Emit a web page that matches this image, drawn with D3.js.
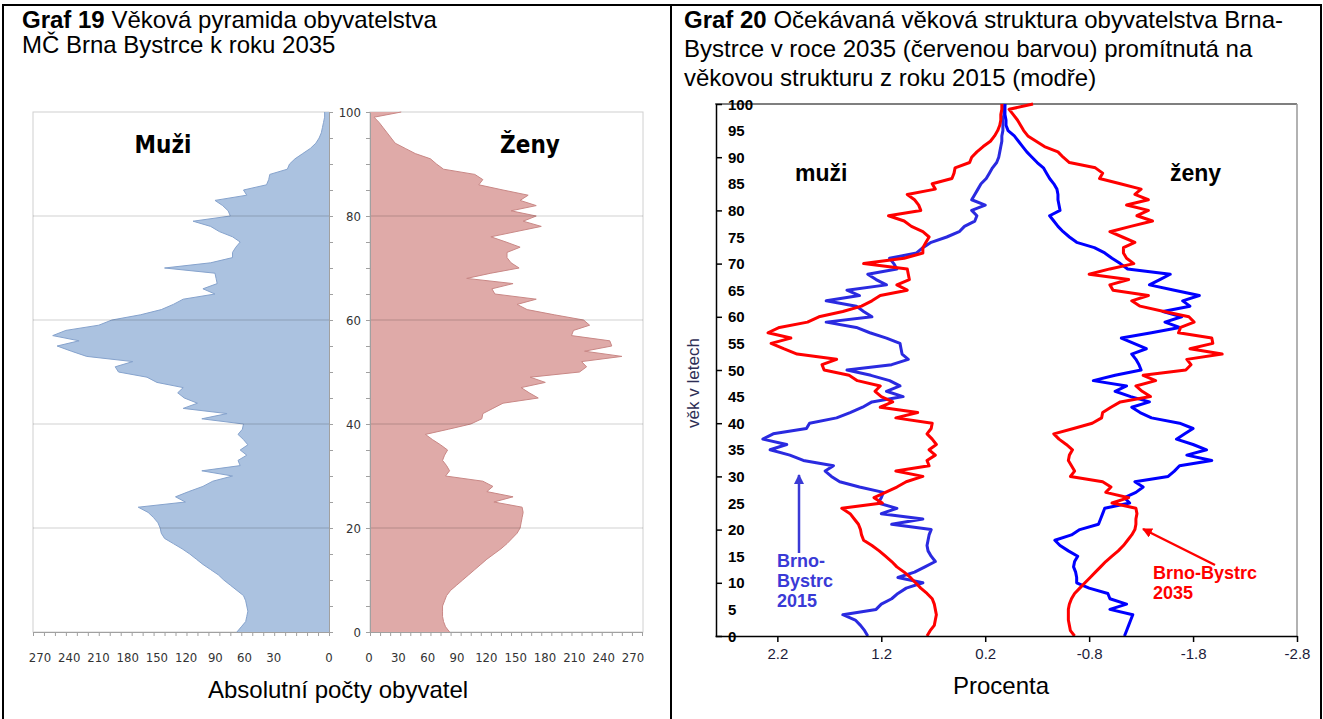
<!DOCTYPE html>
<html><head><meta charset="utf-8">
<script src="https://cdn.jsdelivr.net/npm/d3@7"></script>
<style>body{margin:0;background:#fff}svg{display:block}</style>
</head><body>
<svg id="c" width="1323" height="719"></svg>
<script>
// ---------- DATA ----------
const ages = d3.range(0, 101);
// Graf 19: absolute counts 2035 (ages 0..100)
const men2035 = [84,80,76,75,74,75,76,78,84,90,
 96,101,108,115,121,127,134,142,150,153,
 154,156,160,165,174,131,140,128,115,106,
 88,116,81,83,75,81,74,78,83,79,
 78,116,93,133,120,132,138,133,157,166,
 192,195,179,221,235,248,228,252,240,210,
 198,172,153,142,133,104,115,102,103,104,
 150,108,88,88,85,81,88,100,108,124,
 90,92,97,104,75,78,57,55,54,38,
 36,31,24,17,12,9,7,6,5,4,4];
const women2035 = [79,75,73,72,72,72,74,76,80,86,
 92,98,104,110,116,123,130,136,141,146,
 149,150,151,152,151,123,142,116,122,112,
 75,79,76,72,74,77,70,62,55,78,
 100,111,112,122,132,167,158,150,174,159,
 208,215,210,250,213,240,238,200,202,218,
 212,183,156,146,165,124,121,142,96,120,
 148,140,136,136,149,135,120,145,170,152,
 165,140,165,149,157,132,108,112,104,73,
 66,60,45,35,25,21,17,13,9,4,31];
// Graf 20: percentages (men positive = left, women negative = right)
const menPct2015 = [1.33,1.36,1.40,1.45,1.57,1.25,1.20,1.10,1.04,0.96,
 0.80,1.04,0.88,0.78,0.68,0.72,0.75,0.76,0.75,0.74,
 0.72,1.10,0.80,1.20,1.05,1.23,1.20,1.18,1.41,1.60,
 1.68,1.74,1.66,1.95,2.08,2.27,2.11,2.34,2.24,1.92,
 1.89,1.63,1.50,1.38,1.29,0.99,1.15,1.02,1.12,1.30,
 1.53,1.10,0.94,1.00,1.01,1.02,1.15,1.31,1.44,1.73,
 1.29,1.37,1.44,1.73,1.41,1.53,1.15,1.25,1.33,1.05,
 1.08,1.12,0.86,0.80,0.72,0.57,0.45,0.40,0.30,0.28,
 0.33,0.20,0.33,0.30,0.27,0.24,0.19,0.16,0.13,0.09,
 0.07,0.06,0.05,0.04,0.04,0.03,0.03,0.03,0.02,0.02,0.01];
const menPct2035 = [0.76,0.73,0.69,0.68,0.67,0.68,0.69,0.71,0.76,0.82,
 0.87,0.92,0.98,1.05,1.10,1.16,1.22,1.29,1.37,1.39,
 1.40,1.42,1.46,1.50,1.58,1.19,1.27,1.16,1.05,0.96,
 0.80,1.06,0.74,0.76,0.68,0.74,0.67,0.71,0.76,0.72,
 0.71,1.06,0.85,1.21,1.09,1.20,1.26,1.21,1.43,1.51,
 1.75,1.77,1.63,2.01,2.14,2.26,2.07,2.29,2.18,1.91,
 1.80,1.57,1.39,1.29,1.21,0.95,1.05,0.93,0.94,0.95,
 1.37,0.98,0.80,0.80,0.77,0.74,0.80,0.91,0.98,1.13,
 0.82,0.84,0.88,0.95,0.68,0.71,0.52,0.50,0.49,0.35,
 0.33,0.28,0.22,0.15,0.11,0.08,0.06,0.05,0.05,0.04,0.04];
const womenPct2015 = [-1.14,-1.16,-1.18,-1.20,-1.22,-1.00,-1.16,-1.00,-0.98,-0.80,
 -0.68,-0.68,-0.67,-0.65,-0.66,-0.69,-0.60,-0.52,-0.47,-0.63,
 -0.71,-0.89,-0.91,-0.93,-0.95,-1.19,-1.14,-1.25,-1.32,-1.24,
 -1.56,-1.62,-1.67,-1.98,-1.74,-1.93,-1.80,-1.64,-1.72,-1.80,
 -1.67,-1.40,-1.29,-1.21,-1.38,-1.20,-1.05,-1.16,-0.84,-1.05,
 -1.30,-1.28,-1.25,-1.21,-1.35,-1.23,-1.11,-1.40,-1.67,-1.53,
 -1.69,-1.51,-1.77,-1.70,-1.86,-1.62,-1.38,-1.48,-1.58,-1.17,
 -1.10,-1.02,-0.95,-0.85,-0.68,-0.61,-0.55,-0.50,-0.46,-0.42,
 -0.52,-0.51,-0.50,-0.50,-0.49,-0.46,-0.42,-0.39,-0.36,-0.30,
 -0.25,-0.20,-0.16,-0.12,-0.08,-0.02,0.00,0.00,0.01,0.01,0.01];
const womenPct2035 = [-0.66,-0.62,-0.61,-0.60,-0.60,-0.60,-0.61,-0.63,-0.66,-0.71,
 -0.76,-0.81,-0.86,-0.91,-0.96,-1.02,-1.08,-1.13,-1.17,-1.21,
 -1.24,-1.25,-1.25,-1.26,-1.25,-1.02,-1.18,-0.96,-1.01,-0.93,
 -0.62,-0.66,-0.63,-0.60,-0.61,-0.64,-0.58,-0.51,-0.46,-0.65,
 -0.83,-0.92,-0.93,-1.01,-1.10,-1.39,-1.31,-1.25,-1.44,-1.32,
 -1.73,-1.78,-1.74,-2.08,-1.77,-1.99,-1.98,-1.66,-1.68,-1.81,
 -1.76,-1.52,-1.29,-1.21,-1.37,-1.03,-1.00,-1.18,-0.80,-1.00,
 -1.23,-1.16,-1.13,-1.13,-1.24,-1.12,-1.00,-1.20,-1.41,-1.26,
 -1.37,-1.16,-1.37,-1.24,-1.30,-1.10,-0.90,-0.93,-0.86,-0.61,
 -0.55,-0.50,-0.37,-0.29,-0.21,-0.17,-0.14,-0.11,-0.07,-0.03,-0.26];
const countTicks = [0,30,60,90,120,150,180,210,240,270];
const ageTicksLeft = [0,20,40,60,80,100];
const pctTicks = [2.2,1.2,0.2,-0.8,-1.8,-2.8];
const ageTicksRight = d3.range(0,101,5);

// ---------- SETUP ----------
const svg = d3.select('#c');
const SANS = '"Liberation Sans", Arial, Helvetica, sans-serif';
const NARROW = '"Liberation Sans Narrow", "Arial Narrow", "DejaVu Sans Condensed", sans-serif';

// table frame
const frame = svg.append('g').attr('stroke','#000').attr('stroke-width',2);
frame.append('line').attr('x1',3).attr('x2',3).attr('y1',5).attr('y2',719);
frame.append('line').attr('x1',671).attr('x2',671).attr('y1',5).attr('y2',719);
frame.append('line').attr('x1',1321).attr('x2',1321).attr('y1',5).attr('y2',719);
frame.append('line').attr('x1',2).attr('x2',1322).attr('y1',5).attr('y2',5);

// titles
function title(x, lines, y0, dy){
  const t = svg.append('g').attr('font-family',SANS).attr('font-size',24).attr('fill','#000');
  lines.forEach((ln,i)=>{
    const tx = t.append('text').attr('x',x).attr('y',y0+i*dy);
    ln.forEach(seg=>tx.append('tspan').attr('font-weight',seg[1]?'bold':'normal').text(seg[0]));
  });
}
title(22, [[['Graf 19',1],[' Věková pyramida obyvatelstva',0]],[['MČ Brna Bystrce k roku 2035',0]]], 28, 25);
title(684, [[['Graf 20',1],[' Očekávaná věková struktura obyvatelstva Brna-',0]],
            [['Bystrce v roce 2035 (červenou barvou) promítnutá na',0]],
            [['věkovou strukturu z roku 2015 (modře)',0]]], 28, 29);

// ---------- GRAF 19 ----------
const yL = d3.scaleLinear().domain([0,100]).range([632,112]);
const xMen = d3.scaleLinear().domain([0,270]).range([329,33]);
const xWomen = d3.scaleLinear().domain([0,270]).range([370,642]);
const menLbl = d3.scaleLinear().domain([0,270]).range([303,40]);
const womenLbl = d3.scaleLinear().domain([0,270]).range([369,633]);

const menData = ages.map((a,i)=>({age:a, v:men2035[i]}));
const womenData = ages.map((a,i)=>({age:a, v:women2035[i]}));

const gL = svg.append('g');
gL.append('rect').attr('x',xMen(270)).attr('y',yL(100)).attr('width',xMen(0)-xMen(270)).attr('height',yL(0)-yL(100))
  .attr('fill','none').attr('stroke','#d0d0d0');
gL.append('rect').attr('x',xWomen(0)).attr('y',yL(100)).attr('width',xWomen(270)-xWomen(0)+1).attr('height',yL(0)-yL(100))
  .attr('fill','none').attr('stroke','#d0d0d0');

gL.append('path').datum(menData).attr('fill','#abc2e0')
  .attr('d', d3.area().y(d=>yL(d.age)).x0(xMen(0)).x1(d=>xMen(d.v)));
gL.append('path').datum(menData).attr('fill','none').attr('stroke','#86a3cd').attr('stroke-width',1)
  .attr('d', d3.line().x(d=>xMen(d.v)).y(d=>yL(d.age)));
gL.append('path').datum(womenData).attr('fill','#dfaaa8')
  .attr('d', d3.area().y(d=>yL(d.age)).x0(xWomen(0)).x1(d=>xWomen(d.v)));
gL.append('path').datum(womenData).attr('fill','none').attr('stroke','#c98886').attr('stroke-width',1)
  .attr('d', d3.line().x(d=>xWomen(d.v)).y(d=>yL(d.age)));

[20,40,60,80].forEach(a=>{
  gL.append('line').attr('x1',xMen(270)).attr('x2',xMen(0)).attr('y1',yL(a)).attr('y2',yL(a)).attr('stroke','rgba(0,0,0,0.18)');
  gL.append('line').attr('x1',xWomen(0)).attr('x2',xWomen(270)+1).attr('y1',yL(a)).attr('y2',yL(a)).attr('stroke','rgba(0,0,0,0.18)');
});

function styleAxis(g, col){
  g.selectAll('path').attr('stroke',col);
  g.selectAll('line').attr('stroke',col);
}
const axM = gL.append('g').attr('transform',`translate(0,${yL(0)})`)
  .call(d3.axisBottom(xMen).tickValues(d3.range(0,271,10)).tickSize(4).tickSizeOuter(0).tickFormat(''));
styleAxis(axM,'#a0a0a0');
const axW = gL.append('g').attr('transform',`translate(0,${yL(0)})`)
  .call(d3.axisBottom(xWomen).tickValues(d3.range(0,271,10)).tickSize(4).tickSizeOuter(0).tickFormat(''));
styleAxis(axW,'#a0a0a0');
const ayM = gL.append('g').attr('transform',`translate(${xMen(0)},0)`)
  .call(d3.axisRight(yL).tickValues(d3.range(0,101,5)).tickSize(4).tickSizeOuter(0).tickFormat(''));
styleAxis(ayM,'#a0a0a0');
const ayW = gL.append('g').attr('transform',`translate(${xWomen(0)},0)`)
  .call(d3.axisLeft(yL).tickValues(d3.range(0,101,5)).tickSize(4).tickSizeOuter(0).tickFormat(''));
styleAxis(ayW,'#a0a0a0');

const lblG = gL.append('g').attr('font-family',NARROW).attr('font-size',13).attr('fill','#333').attr('text-anchor','middle');
countTicks.forEach(v=>{
  lblG.append('text').attr('x', v===0 ? xMen(0) : menLbl(v)).attr('y',662).text(v);
  lblG.append('text').attr('x', womenLbl(v)).attr('y',662).text(v);
});
ageTicksLeft.forEach(a=>{
  lblG.append('text').attr('x',361).attr('y',yL(a)+4.5).attr('text-anchor','end').text(a);
});
gL.append('text').attr('x',163).attr('y',153).attr('text-anchor','middle').attr('font-family',NARROW)
  .attr('font-weight','bold').attr('font-size',24).text('Muži');
gL.append('text').attr('x',530).attr('y',153).attr('text-anchor','middle').attr('font-family',NARROW)
  .attr('font-weight','bold').attr('font-size',24).text('Ženy');
gL.append('text').attr('x',338).attr('y',698).attr('text-anchor','middle').attr('font-family',SANS)
  .attr('font-size',24).text('Absolutní počty obyvatel');

// ---------- GRAF 20 ----------
const yR = d3.scaleLinear().domain([0,100]).range([636,104]);
const xR = d3.scaleLinear().domain([2.8,-2.8]).range([715,1297]);
const gR = svg.append('g');
gR.append('line').attr('x1',xR(2.8)).attr('x2',xR(-2.8)).attr('y1',yR(100)).attr('y2',yR(100)).attr('stroke','#555').attr('stroke-width',1.5);
gR.append('line').attr('x1',xR(-2.8)).attr('x2',xR(-2.8)).attr('y1',yR(100)).attr('y2',yR(0)).attr('stroke','#999').attr('stroke-width',1.5);

const line = d3.line().x(d=>xR(d.v)).y(d=>yR(d.age));
const series = [
  {vals:menPct2015, col:'#2a2ae0'},
  {vals:womenPct2015, col:'#0000ff'},
  {vals:menPct2035, col:'#ff0000'},
  {vals:womenPct2035, col:'#ff0000'}
];
series.forEach(s=>{
  gR.append('path').datum(ages.map((a,i)=>({age:a, v:s.vals[i]})))
    .attr('fill','none').attr('stroke',s.col).attr('stroke-width',3).attr('stroke-linejoin','round')
    .attr('d',line);
});

const axB = gR.append('g').attr('transform',`translate(0,${yR(0)})`)
  .call(d3.axisBottom(xR).tickValues(pctTicks).tickSize(6).tickSizeOuter(0).tickFormat(d=>d.toFixed(1)));
axB.selectAll('path,line').attr('stroke','#000').attr('stroke-width',1.5);
axB.selectAll('text').attr('font-family',SANS).attr('font-size',15).attr('fill','#1c1c3a').attr('dy','0.95em');
const axL = gR.append('g').attr('transform',`translate(${xR(2.8)+1},0)`)
  .call(d3.axisRight(yR).tickValues(d3.range(0,101,10)).tickSize(6).tickSizeOuter(0).tickFormat(''));
axL.selectAll('path,line').attr('stroke','#000').attr('stroke-width',1.5);
const ylab = gR.append('g').attr('font-family',SANS).attr('font-weight','bold').attr('font-size',15).attr('fill','#000');
ageTicksRight.forEach(a=>{
  ylab.append('text').attr('x',728).attr('y',yR(a)+5.5).text(a);
});
gR.append('text').attr('transform','translate(699,383) rotate(-90)').attr('text-anchor','middle')
  .attr('font-family',SANS).attr('font-size',17).attr('fill','#2e2e55').text('věk v letech');
gR.append('text').attr('x',1001).attr('y',694).attr('text-anchor','middle').attr('font-family',SANS)
  .attr('font-size',24).text('Procenta');
gR.append('text').attr('x',795).attr('y',181).attr('font-family',SANS).attr('font-weight','bold').attr('font-size',23).text('muži');
gR.append('text').attr('x',1170).attr('y',181).attr('font-family',SANS).attr('font-weight','bold').attr('font-size',23).text('ženy');

const defs = svg.append('defs');
[['ab','#3a3ad6'],['ar','#ff0000']].forEach(([id,c])=>{
  defs.append('marker').attr('id',id).attr('viewBox','0 0 10 10').attr('refX',9).attr('refY',5)
    .attr('markerWidth',4).attr('markerHeight',4).attr('orient','auto').attr('markerUnits','strokeWidth')
    .append('path').attr('d','M0,0L10,5L0,10z').attr('fill',c);
});
gR.append('line').attr('x1',799).attr('y1',553).attr('x2',799).attr('y2',475).attr('stroke','#3a3ad6').attr('stroke-width',2.5).attr('marker-end','url(#ab)');
gR.append('line').attr('x1',1215).attr('y1',565).attr('x2',1143).attr('y2',529).attr('stroke','#ff0000').attr('stroke-width',2.5).attr('marker-end','url(#ar)');
const bt = gR.append('g').attr('font-family',SANS).attr('font-weight','bold').attr('font-size',18).attr('fill','#3a3ad6');
['Brno-','Bystrc','2015'].forEach((s,i)=>bt.append('text').attr('x',777).attr('y',567+i*20).text(s));
const rt = gR.append('g').attr('font-family',SANS).attr('font-weight','bold').attr('font-size',18).attr('fill','#ff0000');
['Brno-Bystrc','2035'].forEach((s,i)=>rt.append('text').attr('x',1153).attr('y',579+i*20).text(s));
</script>
</body></html>
